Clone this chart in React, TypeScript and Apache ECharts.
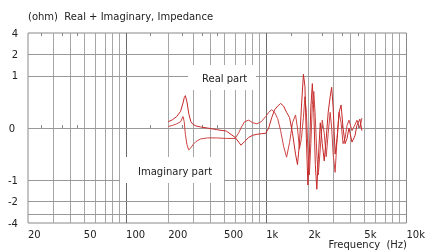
import React, { useEffect, useRef } from 'react';
import * as echarts from 'echarts';

const freqHz = [200, 215, 230, 245, 255, 260, 265, 272, 280, 290, 300, 315, 340, 380, 440, 520, 600, 640, 660, 700, 750, 800, 860, 920, 992,
  1041, 1094, 1148, 1206, 1266, 1330, 1396, 1466, 1539, 1617, 1670, 1725, 1782, 1841, 1887, 1933, 1981, 2030, 2080, 2132, 2184, 2238, 2294, 2350,
  2428, 2508, 2591, 2677, 2765, 2857, 2927, 2999, 3098, 3201, 3307, 3416, 3529, 3646, 3767, 3892, 4086, 4290, 4432, 4653, 4808];

const realPart = [0.12, 0.16, 0.22, 0.32, 0.48, 0.58, 0.62, 0.5, 0.28, 0.12, 0.07, 0.04, 0.02, 0.0, -0.03, -0.06, -0.18, -0.28, -0.33, -0.26, -0.18, -0.14, -0.12, -0.11, -0.1,
  0.0, 0.2, 0.35, 0.42, 0.47, 0.42, 0.3, 0.2, -0.1, -0.5, -0.7, -0.3, 0.4, 1.05, 0.8, -0.2, -1.17, -0.5, 0.4, 0.85, 0.3, -0.7, -1.34, -0.6,
  0.1, -0.3, -0.63, -0.2, 0.3, 0.6, 0.78, 0.4, -0.5, -0.2, 0.3, 0.44, 0.0, -0.3, -0.2, 0.0, -0.27, -0.15, 0.05, 0.17, -0.05];

const imagPart = [0.03, 0.05, 0.08, 0.12, 0.22, 0.12, -0.12, -0.32, -0.42, -0.38, -0.32, -0.26, -0.21, -0.19, -0.19, -0.2, -0.2, -0.08, 0.0, 0.12, 0.15, 0.1, 0.08, 0.12, 0.22,
  0.3, 0.35, 0.3, 0.18, -0.05, -0.35, -0.56, -0.28, 0.1, 0.25, 0.0, -0.4, -0.2, 0.2, 0.6, 0.3, -0.4, -0.9, -0.3, 0.45, 0.7, 0.2, -0.5, -0.9,
  -0.4, 0.15, -0.1, -0.55, -0.1, 0.3, 0.0, -0.5, -0.85, -0.2, 0.3, 0.1, -0.3, -0.2, 0.05, 0.15, -0.05, 0.06, 0.15, 0.0, 0.19];

const xLabelValues = [20, 50, 100, 200, 500, 1000, 2000, 5000, 10000];
const xMinorGrid = [30, 40, 50, 60, 70, 80, 90, 200, 300, 400, 500, 600, 700, 800, 900, 2000, 3000, 4000, 5000, 6000, 7000, 8000, 9000];
const xDecadeGrid = [100, 1000];
const xMinorTicks = [25, 35, 45, 150, 250, 350, 450, 1500, 2500, 3500, 4500];
const yLabelValues = [4, 2, 1, 0, -1, -2, -4];
const yGridValues = [2, 1, 0, -1, -2, -3];

const K = 0.41;
const tf = (v: number) => (Math.abs(v) <= 1 ? v : Math.sign(v) * (1 + K * Math.log2(Math.abs(v))));
const inv = (t: number) => (Math.abs(t) <= 1 ? t : Math.sign(t) * Math.pow(2, (Math.abs(t) - 1) / K));
const lg = (f: number) => Math.log10(f);

const FONT = '"DejaVu Sans", Verdana, sans-serif';
const TXT = '#222';

export default function App() {
  const ref = useRef<HTMLDivElement>(null);
  useEffect(() => {
    if (!ref.current) return;
    const chart = echarts.init(ref.current, null, { renderer: 'svg' });
    const xmin = lg(20);
    const xmax = lg(10000);
    const markData: any[] = [];
    xMinorGrid.forEach((v) => markData.push({ xAxis: lg(v), lineStyle: { color: '#a6a6a6', width: 1, type: 'solid' } }));
    xDecadeGrid.forEach((v) => markData.push({ xAxis: lg(v), lineStyle: { color: '#6a6a6a', width: 1, type: 'solid' } }));
    yGridValues.forEach((v) => markData.push({ yAxis: tf(v), lineStyle: { color: '#999', width: 1, type: 'solid' } }));

    const xAxisCommon = {
      type: 'value',
      min: xmin,
      max: xmax,
      splitLine: { show: false },
      axisLine: { show: false },
      axisTick: {
        show: true,
        inside: true,
        length: 3,
        customValues: xMinorTicks.map(lg),
        lineStyle: { color: '#888' },
      },
    };

    chart.setOption({
      animation: false,
      textStyle: { fontFamily: FONT },
      title: [
        {
          text: '(ohm)  Real + Imaginary, Impedance',
          left: 28,
          top: 11,
          padding: 0,
          textStyle: { fontSize: 10, fontWeight: 'normal', color: TXT, fontFamily: FONT },
        },
        {
          text: 'Frequency  (Hz)',
          right: 21,
          top: 239,
          padding: 0,
          textStyle: { fontSize: 10, fontWeight: 'normal', color: TXT, fontFamily: FONT },
        },
      ],
      grid: { left: 28, right: 20, top: 33, bottom: 27, show: true, borderColor: '#888', borderWidth: 1 },
      xAxis: [
        {
          ...xAxisCommon,
          position: 'bottom',
          axisLabel: {
            customValues: xLabelValues.map(lg),
            formatter: (v: number) => {
              const f = Math.round(Math.pow(10, v));
              return f >= 1000 ? f / 1000 + 'k' : String(f);
            },
            align: 'left',
            margin: 6,
            fontSize: 10,
            color: TXT,
            fontFamily: FONT,
            showMinLabel: true,
            showMaxLabel: true,
          },
        },
        {
          ...xAxisCommon,
          position: 'top',
          axisLabel: { show: false },
        },
      ],
      yAxis: {
        type: 'value',
        min: -tf(4),
        max: tf(4),
        splitLine: { show: false },
        axisLine: { show: false },
        axisTick: { show: false },
        axisLabel: {
          customValues: yLabelValues.map(tf),
          formatter: (t: number) => {
            const r = Math.round(inv(t));
            return r === 0 ? '{z|0}' : String(r);
          },
          rich: { z: { padding: [0, 3, 0, 0], fontSize: 10, color: TXT, fontFamily: FONT } },
          margin: 10,
          fontSize: 10,
          color: TXT,
          fontFamily: FONT,
          showMinLabel: true,
          showMaxLabel: true,
        },
      },
      series: [
        {
          type: 'line',
          name: 'grid',
          data: [],
          z: 1,
          silent: true,
          markLine: {
            silent: true,
            symbol: 'none',
            z: 1,
            label: { show: false },
            emphasis: { disabled: true },
            data: markData,
          },
        },
        {
          type: 'line',
          name: 'Imaginary part',
          data: freqHz.map((f, i) => [lg(f), tf(imagPart[i])]),
          symbol: 'none',
          z: 3,
          lineStyle: { color: '#cc4444', width: 1 },
        },
        {
          type: 'line',
          name: 'Real part',
          data: freqHz.map((f, i) => [lg(f), tf(realPart[i])]),
          symbol: 'none',
          z: 3,
          lineStyle: { color: '#c62828', width: 1 },
        },
      ],
      graphic: [
        { type: 'rect', z: 50, shape: { x: 188, y: 65, width: 68, height: 25 }, style: { fill: '#fff' } },
        { type: 'text', z: 51, x: 202, y: 78, style: { text: 'Real part', font: '10px ' + FONT, fill: TXT, verticalAlign: 'middle' } },
        { type: 'rect', z: 50, shape: { x: 120, y: 157, width: 104, height: 26 }, style: { fill: '#fff' } },
        { type: 'text', z: 51, x: 138, y: 171, style: { text: 'Imaginary part', font: '10px ' + FONT, fill: TXT, verticalAlign: 'middle' } },
      ],
    });
    return () => chart.dispose();
  }, []);
  return <div ref={ref} style={{ position: 'fixed', left: 0, top: 0, width: 428, height: 250 }} />;
}
